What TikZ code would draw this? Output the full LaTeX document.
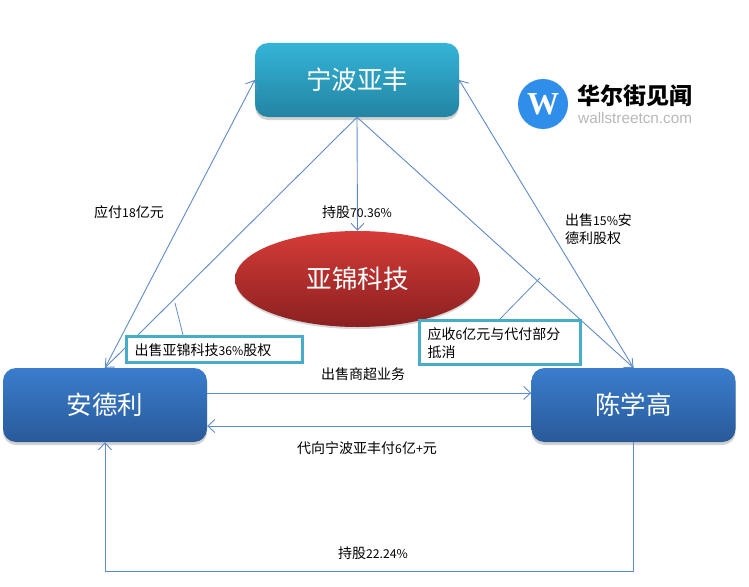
\documentclass[tikz,border=0pt]{standalone}
\usepackage{fontspec}
\setmainfont{Noto Sans CJK SC}
\newfontfamily\logoserif{Liberation Serif}
\newfontfamily\logosans{Liberation Sans}
\usetikzlibrary{calc,shapes.geometric,shadows,arrows.meta}
\definecolor{linkblue}{HTML}{5F8BC8}
\definecolor{framecyan}{HTML}{46ACC8}
\definecolor{logoblue}{HTML}{2F8EEA}
\definecolor{cyantop}{HTML}{34B4D8}
\definecolor{cyanbot}{HTML}{2384A2}
\definecolor{bluetop}{HTML}{3A7DCD}
\definecolor{bluebot}{HTML}{295A99}
\definecolor{redtop}{HTML}{D63C38}
\definecolor{redbot}{HTML}{8A2020}
\newcommand{\amount}[1]{{\fontsize{12.2}{18}\selectfont #1}}

\begin{document}
\begin{tikzpicture}[x=1pt,y=1pt]
       \tikzstyle{party} = [rectangle, rounded corners=13pt, minimum width=204pt, minimum height=74pt, text=white,
                            font=\fontsize{25.5}{28}\selectfont, drop shadow={opacity=0.35,shadow xshift=0pt,shadow yshift=-3pt}];
       \tikzstyle{link} = [draw=linkblue, line width=0.9pt, -{Straight Barb[length=7pt,width=13pt]}];
       \tikzstyle{tick} = [draw=linkblue, line width=0.8pt];
       \tikzstyle{caption} = [font=\fontsize{14}{18}\selectfont, inner sep=0pt];
       \tikzstyle{frame} = [rectangle, draw=framecyan, line width=3pt, fill=white, inner sep=0pt];

       \useasboundingbox (0,0) rectangle (749,-586);
       \fill[white] (0,0) rectangle (749,-586);

       \node[party, top color=cyantop, bottom color=cyanbot] (yafeng) at (357,-80) {宁波亚丰};
       \node[party, top color=bluetop, bottom color=bluebot] (andeli) at (105,-405) {安德利};
       \node[party, top color=bluetop, bottom color=bluebot] (chen) at (633.5,-405) {陈学高};
       \node[ellipse, minimum width=245pt, minimum height=96pt, inner sep=0pt, text=white,
             top color=redtop, bottom color=redbot,
             font=\fontsize{25.5}{28}\selectfont, drop shadow={opacity=0.3,shadow xshift=0pt,shadow yshift=-2pt}] (yajin) at (357.5,-279) {亚锦科技};

       % triangle
       \draw[link] (andeli.north) -- (yafeng.west);
       \draw[link] (chen.north) -- (yafeng.east);
       \draw[link] (yafeng.south) -- (andeli.north);
       \draw[link] (yafeng.south) -- (chen.north);
       \draw[link] (yafeng.south) -- (yajin.north);

       % business lines
       \draw[link] ($(andeli.east)+(0,12)$) -- ($(chen.west)+(0,12)$);
       \draw[link] ($(chen.west)+(0,-21)$) -- ($(andeli.east)+(0,-21)$);
       \draw[link] (chen.south) -- ++(0,-129) -| (andeli.south);

       % boxes
       \node[frame, minimum width=176pt, minimum height=26pt, anchor=north west] (stake) at (124.5,-335) {};
       \node[caption, anchor=west] (staketext) at ($(stake.west)+(10,-1)$) {出售亚锦科技\amount{36\%}股权};
       \node[frame, minimum width=161pt, minimum height=44pt, anchor=north west] (offset) at (417.5,-319) {};
       \node[caption, anchor=west, align=left] (offsettext) at ($(offset.west)+(10,-1)$) {应收\amount{6}亿元与代付部分\\抵消};

       \coordinate (tickA) at (175,-303);
       \coordinate (tickB) at (540,-278);
       \draw[tick] (tickA) -- ($(stake.north west)+(58.5,0)$);
       \draw[tick] (tickB) -- ($(offset.north west)+(82.5,0)$);

       % labels
       \node[caption] (pay) at (129,-212) {应付\amount{18}亿元};
       \node[caption] (hold) at (357,-212) {持股\amount{70.36\%}};
       \node[caption, anchor=west, align=left] (sell) at (565,-229) {出售\amount{15\%}安\\德利股权};
       \node[caption] (retail) at (363,-374) {出售商超业务};
       \node[caption] (proxy) at (367,-448) {代向宁波亚丰付\amount{6}亿\amount{+}元};
       \node[caption] (hold2) at (373,-553) {持股\amount{22.24\%}};

       % logo
       \node[circle, fill=logoblue, minimum size=50pt, inner sep=0pt, text=white,
             font=\logoserif\bfseries\fontsize{32}{32}\selectfont] (logo) at (543,-104) {W};
       \node[anchor=west, inner sep=0pt, font=\bfseries\fontsize{23}{24}\selectfont] (brand) at (577.5,-96) {华尔街见闻};
       \node[anchor=west, inner sep=0pt, text=black!28, font=\logosans\fontsize{15.3}{16}\selectfont] (site) at (578,-118) {wallstreetcn.com};
\end{tikzpicture}
\end{document}
